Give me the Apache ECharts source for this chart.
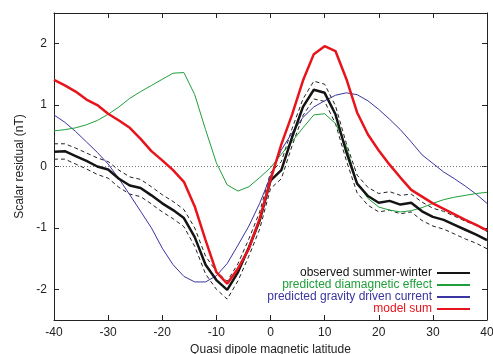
<!DOCTYPE html>
<html>
<head>
<meta charset="utf-8">
<script src="https://cdn.jsdelivr.net/npm/echarts@6/dist/echarts.min.js"></script>
<style>html,body{margin:0;padding:0;background:#fff}#c{width:493px;height:354px}</style>
</head>
<body>
<div id="c"></div>
<script>
const lats = [-40,-38,-36,-34,-32,-30,-28,-26,-24,-22,-20,-18,-16,-14,-12,-10,-8,-6,-4,-2,0,2,4,6,8,10,12,14,16,18,20,22,24,26,28,30,32,34,36,38,40];
const observed = [0.24,0.25,0.17,0.09,0.0,-0.05,-0.2,-0.31,-0.35,-0.47,-0.6,-0.71,-0.84,-1.15,-1.6,-1.85,-2.01,-1.72,-1.32,-0.88,-0.23,-0.06,0.48,0.97,1.25,1.2,0.85,0.24,-0.28,-0.48,-0.59,-0.56,-0.62,-0.59,-0.73,-0.82,-0.87,-0.95,-1.03,-1.11,-1.2];
const observedUpper = [0.37,0.37,0.3,0.22,0.14,0.08,-0.06,-0.17,-0.21,-0.33,-0.46,-0.57,-0.7,-1.0,-1.46,-1.71,-1.87,-1.58,-1.18,-0.74,-0.1,0.08,0.62,1.1,1.39,1.34,0.99,0.38,-0.14,-0.34,-0.44,-0.41,-0.47,-0.45,-0.58,-0.68,-0.73,-0.81,-0.89,-0.96,-1.06];
const observedLower = [0.12,0.12,0.04,-0.04,-0.13,-0.19,-0.34,-0.45,-0.49,-0.61,-0.74,-0.85,-0.98,-1.3,-1.75,-2.0,-2.16,-1.86,-1.46,-1.02,-0.36,-0.2,0.34,0.83,1.1,1.06,0.7,0.1,-0.43,-0.63,-0.74,-0.71,-0.77,-0.74,-0.88,-0.97,-1.02,-1.1,-1.18,-1.25,-1.34];
const diamagnetic = [0.58,0.6,0.63,0.68,0.75,0.85,0.97,1.11,1.22,1.32,1.42,1.52,1.53,1.17,0.6,0.06,-0.3,-0.4,-0.33,-0.18,-0.02,0.2,0.41,0.63,0.84,0.86,0.7,0.33,-0.27,-0.52,-0.66,-0.71,-0.74,-0.72,-0.67,-0.6,-0.54,-0.5,-0.47,-0.44,-0.42];
const gravity = [0.84,0.72,0.57,0.4,0.23,0.04,-0.2,-0.46,-0.73,-1.0,-1.33,-1.6,-1.79,-1.88,-1.88,-1.78,-1.58,-1.28,-0.97,-0.6,-0.16,0.27,0.55,0.8,0.97,1.07,1.16,1.2,1.17,1.07,0.93,0.77,0.6,0.4,0.19,0.05,-0.09,-0.2,-0.32,-0.45,-0.6];
const modelSum = [1.41,1.32,1.22,1.09,1.0,0.86,0.75,0.63,0.45,0.25,0.1,-0.06,-0.25,-0.65,-1.2,-1.72,-1.91,-1.66,-1.34,-0.85,-0.22,0.36,0.85,1.4,1.83,1.96,1.88,1.43,0.88,0.52,0.26,0.03,-0.18,-0.38,-0.49,-0.6,-0.69,-0.78,-0.87,-0.95,-1.04];
const xTicks = [-40,-30,-20,-10,0,10,20,30,40];
const yTicks = [-2,-1,0,1,2];
const names = ['observed summer-winter','predicted diamagnetic effect','predicted gravity driven current','model sum'];
const colors = ['#141414','#1f9f3a','#3a35a0','#e8141c'];

const pairs = a => lats.map((x,i)=>[x,a[i]]);
const FONT = 'Liberation Sans';
const axisCol = '#222';
const xBase = {type:'value',min:-40,max:40,interval:10,
  axisLine:{show:true,onZero:false,lineStyle:{color:axisCol,width:1}},
  axisTick:{show:true,inside:true,length:5,lineStyle:{color:axisCol}},
  splitLine:{show:false}};
const yBase = {type:'value',min:-2.5,max:2.5,
  axisLine:{show:true,onZero:false,lineStyle:{color:axisCol,width:1}},
  axisTick:{show:true,inside:true,length:5,customValues:yTicks,lineStyle:{color:axisCol}},
  splitLine:{show:false}};

const chart = echarts.init(document.getElementById('c'),null,{renderer:'canvas'});
chart.setOption({
  animation:false,
  backgroundColor:'#fff',
  grid:{left:54,right:6,top:13,bottom:34,containLabel:false,outerBoundsMode:'none'},
  xAxis:[
    Object.assign({},xBase,{position:'bottom',name:'Quasi dipole magnetic latitude',nameLocation:'middle',nameGap:23,
      nameTextStyle:{fontFamily:FONT,fontSize:12,color:axisCol},
      axisLabel:{show:true,margin:7,fontFamily:FONT,fontSize:12,color:axisCol,customValues:xTicks}}),
    Object.assign({},xBase,{position:'top',axisLabel:{show:false}})
  ],
  yAxis:[
    Object.assign({},yBase,{position:'left',name:'Scalar residual (nT)',nameLocation:'middle',nameGap:25,
      nameTextStyle:{fontFamily:FONT,fontSize:12,color:axisCol},
      axisLabel:{show:true,margin:7,fontFamily:FONT,fontSize:12,color:axisCol,customValues:yTicks}}),
    Object.assign({},yBase,{position:'right',axisLabel:{show:false}})
  ],
  legend:{
    orient:'vertical',right:17,bottom:34,align:'right',
    itemWidth:33,itemHeight:8,itemGap:0,
    itemStyle:{opacity:0},
    textStyle:{fontFamily:FONT,fontSize:12,padding:[0,0,0,0]},
    data:names.map((n,i)=>({name:n,textStyle:{color:colors[i]}}))
  },
  series:[
    {name:'zero',type:'line',data:[[-40,0],[40,0]],symbol:'none',silent:true,
      lineStyle:{color:'#777',width:1,type:[1,2]},z:1},
    {name:'upper',type:'line',data:pairs(observedUpper),symbol:'none',
      lineStyle:{color:'#222',width:1,type:[4,3]},z:2},
    {name:'lower',type:'line',data:pairs(observedLower),symbol:'none',
      lineStyle:{color:'#222',width:1,type:[4,3]},z:2},
    {name:names[2],type:'line',data:pairs(gravity),symbol:'none',lineStyle:{color:colors[2],width:1},itemStyle:{color:colors[2]},z:3},
    {name:names[1],type:'line',data:pairs(diamagnetic),symbol:'none',lineStyle:{color:colors[1],width:1},itemStyle:{color:colors[1]},z:4},
    {name:names[0],type:'line',data:pairs(observed),symbol:'none',lineStyle:{color:colors[0],width:2.5},itemStyle:{color:colors[0]},z:5},
    {name:names[3],type:'line',data:pairs(modelSum),symbol:'none',lineStyle:{color:colors[3],width:2.5},itemStyle:{color:colors[3]},z:6}
  ]
});
</script>
</body>
</html>
